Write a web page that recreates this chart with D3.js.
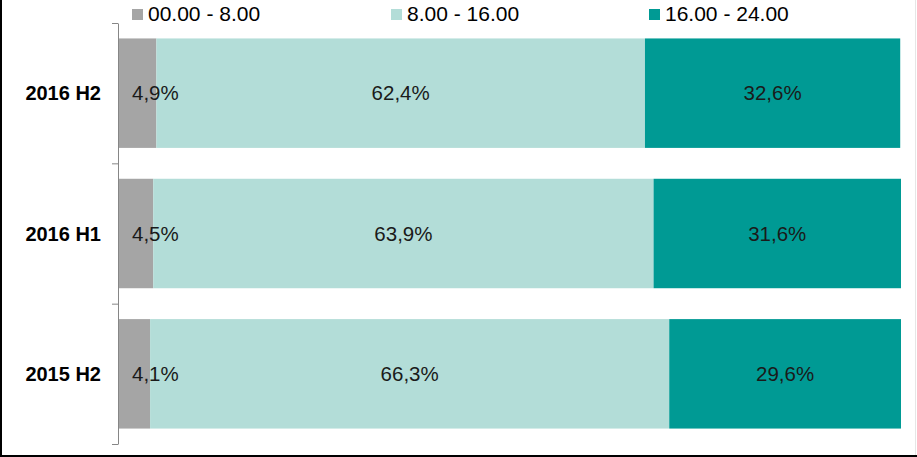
<!DOCTYPE html>
<html>
<head>
<meta charset="utf-8">
<script src="https://cdn.jsdelivr.net/npm/d3@7"></script>
<style>
  body { margin: 0; background: #fff; }
  text { font-family: Arial, "Liberation Sans", sans-serif; }
</style>
</head>
<body>
<script>
// chart data
var categories = ["2016 H2", "2016 H1", "2015 H2"];
var seriesNames = ["00.00 - 8.00", "8.00 - 16.00", "16.00 - 24.00"];
var night = [4.9, 4.5, 4.1];
var day = [62.4, 63.9, 66.3];
var evening = [32.6, 31.6, 29.6];
var colors = ["#a5a5a5", "#b3ddd8", "#009a94"];

var W = 917, H = 457;
var svg = d3.select("body").append("svg")
    .attr("width", W)
    .attr("height", H);

var x = d3.scaleLinear().domain([0, 100]).range([118, 901]);
var y = d3.scaleBand().domain(categories).range([23, 444])
    .paddingInner(0.22).paddingOuter(0.11);

// stack the three series per category
var rows = categories.map(function(c, i){
    return {cat: c, v: [night[i], day[i], evening[i]]};
});
var segs = [];
rows.forEach(function(r){
    var acc = 0;
    r.v.forEach(function(v, k){
        segs.push({cat: r.cat, k: k, x0: acc, x1: acc + v, v: v});
        acc += v;
    });
});

svg.selectAll("rect.seg")
    .data(segs)
    .enter().append("rect")
    .attr("class", "seg")
    .attr("x", function(d){return x(d.x0)})
    .attr("y", function(d){return y(d.cat)})
    .attr("width", function(d){return x(d.x1) - x(d.x0)})
    .attr("height", y.bandwidth())
    .attr("fill", function(d){return colors[d.k]});

// value labels (first series is too narrow, so it starts just inside the bar)
svg.selectAll("text.val")
    .data(segs)
    .enter().append("text")
    .attr("class", "val")
    .attr("x", function(d){
        return d.k == 0 ? x(d.x0) + 14 : (x(d.x0) + x(d.x1)) / 2 })
    .attr("y", function(d){return y(d.cat) + y.bandwidth() / 2 + 7})
    .attr("text-anchor", function(d){return d.k == 0 ? "start" : "middle"})
    .attr("font-size", "20.5px")
    .attr("fill", "#1a1a1a")
    .text(function(d){return d.v.toFixed(1).replace(".", ",") + "%"});

// category axis: line with ticks between the bands
var edges = d3.scaleLinear().domain([0, categories.length]).range([23, 444]);
svg.append("g")
    .attr("transform", "translate(118,0)")
    .call(d3.axisLeft(edges).tickValues(d3.range(categories.length + 1))
        .tickSize(6).tickSizeOuter(0).tickFormat(""))
    .call(function(g){
        g.selectAll("path, line").attr("stroke", "#868686");
    });

svg.selectAll("text.cat")
    .data(categories)
    .enter().append("text")
    .attr("class", "cat")
    .attr("x", 101)
    .attr("y", function(d){return y(d) + y.bandwidth() / 2 + 7})
    .attr("text-anchor", "end")
    .attr("font-size", "20px")
    .attr("font-weight", "bold")
    .attr("fill", "#000")
    .text(function(d){return d});

// legend
var legX = [132, 391, 649];
var leg = svg.selectAll("g.leg")
    .data(seriesNames)
    .enter().append("g")
    .attr("class", "leg")
    .attr("transform", function(d, i){return "translate(" + legX[i] + ",0)"});
leg.append("rect")
    .attr("x", 0).attr("y", 9)
    .attr("width", 11).attr("height", 11)
    .attr("fill", function(d, i){return colors[i]});
leg.append("text")
    .attr("x", 16).attr("y", 21)
    .attr("font-size", "21px")
    .attr("fill", "#000")
    .text(function(d){return d});

// frame
svg.append("line").attr("x1", 1).attr("x2", 1).attr("y1", 0).attr("y2", H)
    .attr("stroke", "#000").attr("stroke-width", 2);
svg.append("line").attr("x1", 0).attr("x2", W).attr("y1", 456).attr("y2", 456)
    .attr("stroke", "#000").attr("stroke-width", 2);
svg.append("line").attr("x1", 915.5).attr("x2", 915.5).attr("y1", 0).attr("y2", 455)
    .attr("stroke", "#e6e6e6").attr("stroke-width", 1);
</script>
</body>
</html>
